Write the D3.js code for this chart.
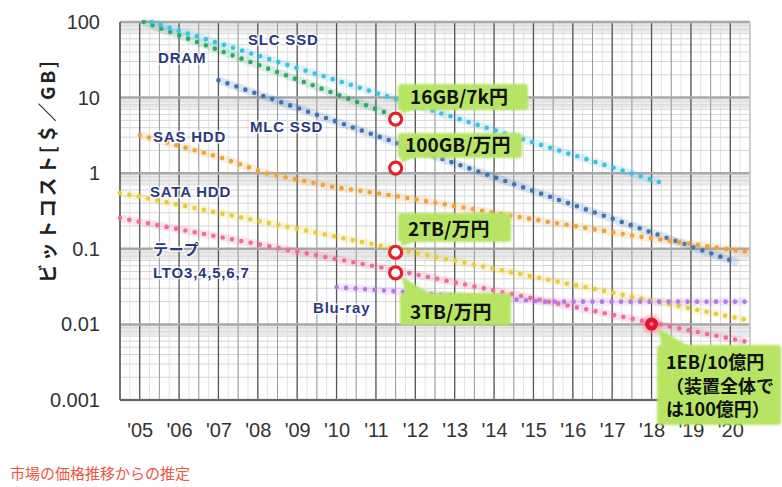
<!DOCTYPE html>
<html><head><meta charset="utf-8">
<script src="https://cdn.jsdelivr.net/npm/d3@7/dist/d3.min.js"></script>
<style>body{margin:0;background:#fff}svg{display:block}</style>
</head><body>
<svg id="c" width="782" height="487"></svg>
<script>
// ---- data ----
const yearTicks = [2005,2006,2007,2008,2009,2010,2011,2012,2013,2014,2015,2016,2017,2018,2019,2020];
const yearLabels = ["'05","'06","'07","'08","'09","'10","'11","'12","'13","'14","'15","'16","'17","'18","'19","'20"];
const yTicks = [100,10,1,0.1,0.01,0.001];
const yTickLabels = ["100","10","1","0.1","0.01","0.001"];

const seriesNames = ["DRAM","SLC SSD","MLC SSD","SAS HDD","SATA HDD","テープ LTO3,4,5,6,7","Blu-ray"];
const dramYears = [2005.1, 2011.4];           const dramValues = [100, 5.9];
const slcYears  = [2005.3, 2018.2];           const slcValues  = [100, 0.76];
const mlcYears  = [2007.0, 2020.2];           const mlcValues  = [17, 0.065];
const sasYears  = [2005.0, 2007.0, 2008.2, 2009.9, 2011.5, 2014.7, 2017.5, 2020.5];
const sasValues = [3.2, 1.65, 1.0, 0.66, 0.5, 0.26, 0.15, 0.09];
const sataYears = [2004.5, 2011.5, 2020.4];   const sataValues = [0.55, 0.10, 0.0115];
const tapeYears = [2004.5, 2011.5, 2018.0, 2020.4]; const tapeValues = [0.255, 0.052, 0.0105, 0.0059];
const bluYears  = [2010.0, 2015.3, 2020.4];   const bluValues  = [0.031, 0.020, 0.020];

const pointYears  = [2011.5, 2011.5, 2011.5, 2011.5, 2018.0];
const pointValues = [5.2, 1.17, 0.09, 0.048, 0.0101];
const pointLabels = [["16GB/7k円"],["100GB/万円"],["2TB/万円"],["3TB/万円"],["1EB/10億円","（装置全体で","は100億円）"]];

const yTitle = "ビットコスト[＄／GB]";
const note = "市場の価格推移からの推定";

// ---- drawing ----
const svg = d3.select("#c");
const L=120, R=750, T=22, B=400;
const x = d3.scaleLinear().domain([2004.5, 2020.5]).range([L, R]);
const y = d3.scaleLog().domain([0.001, 100]).range([B, T]);

const defs = svg.append("defs");
defs.append("filter").attr("id","soft").attr("x","-10%").attr("y","-10%").attr("width","120%").attr("height","120%")
  .append("feGaussianBlur").attr("stdDeviation",1.3);
defs.append("filter").attr("id","glow").attr("x","-50%").attr("y","-50%").attr("width","200%").attr("height","200%")
  .append("feGaussianBlur").attr("stdDeviation",2);

const g = svg.append("g");
// bands under decade lines
yTicks.slice(0,5).forEach(v=>{
  g.append("rect").attr("x",L).attr("width",R-L).attr("y",y(v)).attr("height",y(v*0.72)-y(v)).attr("fill","#ebebeb");
});
// fine vertical lines (quarter years)
for (let t=2004.5; t<=2020.5; t+=0.25){
  g.append("line").attr("x1",x(t)).attr("x2",x(t)).attr("y1",T).attr("y2",B).attr("stroke","#e2e2e2").attr("stroke-width",1);
}
// minor horizontal lines
for (let e=-3; e<2; e++){
  for (let m=2; m<10; m++){
    const v = m*Math.pow(10,e);
    g.append("line").attr("x1",L).attr("x2",R).attr("y1",y(v)).attr("y2",y(v)).attr("stroke","#d6d6d6").attr("stroke-width",1);
  }
}
// half-year lines
yearTicks.forEach(t=>{
  g.append("line").attr("x1",x(t+0.5)).attr("x2",x(t+0.5)).attr("y1",T).attr("y2",B).attr("stroke","#9a9a9a").attr("stroke-width",1);
});
g.append("line").attr("x1",x(2004.5)).attr("x2",x(2004.5)).attr("y1",T).attr("y2",B).attr("stroke","#9a9a9a");
// year lines
yearTicks.forEach(t=>{
  g.append("line").attr("x1",x(t)).attr("x2",x(t)).attr("y1",T).attr("y2",B).attr("stroke","#555").attr("stroke-width",1.3);
});
// decade lines
yTicks.forEach(v=>{
  g.append("line").attr("x1",L).attr("x2",R).attr("y1",y(v)).attr("y2",y(v)).attr("stroke","#a8a8a8").attr("stroke-width",2.5);
});
g.append("line").attr("x1",R).attr("x2",R).attr("y1",T).attr("y2",B).attr("stroke","#cfcfcf").attr("stroke-width",1.5);
g.append("line").attr("x1",L).attr("x2",L).attr("y1",T).attr("y2",B).attr("stroke","#555").attr("stroke-width",1.5);
g.append("line").attr("x1",L).attr("x2",R).attr("y1",B).attr("y2",B).attr("stroke","#666").attr("stroke-width",2);

// axes
const ya = svg.append("g").attr("transform",`translate(${L},0)`)
  .call(d3.axisLeft(y).tickValues(yTicks).tickFormat((d,i)=>yTickLabels[i]).tickSize(0).tickPadding(20));
ya.select(".domain").remove();
ya.selectAll("text").attr("font-family","Liberation Sans, Arial, sans-serif").attr("font-size",20).attr("fill","#333");
const xa = svg.append("g").attr("transform",`translate(0,${B})`)
  .call(d3.axisBottom(x).tickValues(yearTicks).tickFormat((d,i)=>yearLabels[i]).tickSize(0).tickPadding(23));
xa.select(".domain").remove();
xa.selectAll("text").attr("font-family","Liberation Sans, Arial, sans-serif").attr("font-size",20).attr("fill","#333");

// series
const series = [
  {ys:dramYears, vs:dramValues, c:"#2fa86c"},
  {ys:slcYears,  vs:slcValues,  c:"#3cc0e4"},
  {ys:mlcYears,  vs:mlcValues,  c:"#3a74b6"},
  {ys:sasYears,  vs:sasValues,  c:"#f0a23c"},
  {ys:sataYears, vs:sataValues, c:"#e9cc3a"},
  {ys:tapeYears, vs:tapeValues, c:"#f06c9c"},
  {ys:bluYears,  vs:bluValues,  c:"#b678e8"}
];
const line = d3.line().x(d=>x(d[0])).y(d=>y(d[1]));
const sg = svg.append("g");
series.forEach(s=>{
  const pts = s.ys.map((t,i)=>[t, s.vs[i]]);
  sg.append("path").attr("d",line(pts)).attr("fill","none").attr("stroke",s.c).attr("stroke-opacity",0.18).attr("stroke-width",8);
  sg.append("path").attr("d",line(pts)).attr("fill","none").attr("stroke",s.c).attr("stroke-width",4.6)
    .attr("stroke-linecap","round").attr("stroke-dasharray","0 9.5");
});

// series labels
const labelPos = [[158,63],[248,45],[250,132],[153,142],[150,197],[153,255],[313,313]];
const lg = svg.append("g").attr("font-family","Liberation Sans, Arial, sans-serif").attr("font-weight","bold")
  .attr("font-size",15).attr("fill","#2b3a7c").attr("letter-spacing",0.8);
seriesNames.forEach((n,i)=>{
  const parts = n.split(" LTO");
  const t = lg.append("text").attr("x",labelPos[i][0]).attr("y",labelPos[i][1])
    .attr("stroke","#fff").attr("stroke-width",3).attr("stroke-opacity",0.8).attr("paint-order","stroke");
  if (parts.length>1){
    t.text(parts[0]).attr("font-family","Noto Sans CJK JP, sans-serif");
    lg.append("text").attr("x",labelPos[i][0]).attr("y",labelPos[i][1]+23).text("LTO"+parts[1])
      .attr("stroke","#fff").attr("stroke-width",3).attr("stroke-opacity",0.8).attr("paint-order","stroke");
  } else t.text(n);
});

// callouts (green boxes)
const boxes = [
  {x0:398,y0:84,w:130,h:26, ptr:[[400,114],[402,108],[418,108]]},
  {x0:398,y0:133,w:124,h:25, ptr:[[400,163],[402,156],[418,156]]},
  {x0:398,y0:213,w:113,h:29, ptr:[[400,247],[402,240],[418,240]]},
  {x0:400,y0:293,w:111,h:32, ptr:[[401,276],[406,295],[432,295]]},
  {x0:657,y0:345,w:124,h:80, ptr:[[658,328],[662,347],[690,347]]}
];
const cg = svg.append("g");
boxes.forEach((b,i)=>{
  cg.append("rect").attr("x",b.x0).attr("y",b.y0).attr("width",b.w).attr("height",b.h).attr("rx",3)
    .attr("fill","#b7e462").attr("filter","url(#soft)");
  cg.append("polygon").attr("points",b.ptr.map(p=>p.join(",")).join(" ")).attr("fill","#b7e462").attr("filter","url(#soft)");
});
const tg = svg.append("g").attr("font-family","Noto Sans CJK JP, sans-serif").attr("font-weight","bold").attr("fill","#111");
const textPos = [[410,104],[405,152],[408,236],[410,319],[666,369]];
pointLabels.forEach((lines,i)=>{
  lines.forEach((s,j)=>{
    tg.append("text").attr("x",textPos[i][0]).attr("y",textPos[i][1]+j*23.5).attr("font-size",i===4?18:19).text(s);
  });
});

// red markers
const pg = svg.append("g");
pointYears.forEach((t,i)=>{
  const cx=x(t), cy=y(pointValues[i]);
  if (i===4){
    pg.append("circle").attr("cx",cx).attr("cy",cy).attr("r",9).attr("fill","#ff6080").attr("opacity",0.5).attr("filter","url(#glow)");
    pg.append("circle").attr("cx",cx).attr("cy",cy).attr("r",6.5).attr("fill","#e8102a");
    pg.append("circle").attr("cx",cx).attr("cy",cy).attr("r",2).attr("fill","#ff8090");
  } else {
    pg.append("circle").attr("cx",cx).attr("cy",cy).attr("r",6).attr("fill","#fff").attr("stroke","#e4202c").attr("stroke-width",3.2);
  }
});

// axis title
svg.append("text").attr("transform","translate(55,172) rotate(-90)").attr("text-anchor","middle")
  .attr("font-family","Noto Sans CJK JP, sans-serif").attr("font-weight","bold").attr("font-size",19)
  .attr("textLength",222).attr("lengthAdjust","spacing")
  .attr("fill","#222").text(yTitle);
// note
svg.append("text").attr("x",10).attr("y",479).attr("font-family","Noto Sans CJK JP, sans-serif")
  .attr("font-size",15).attr("fill","#ee5544").text(note);
</script>
</body></html>
